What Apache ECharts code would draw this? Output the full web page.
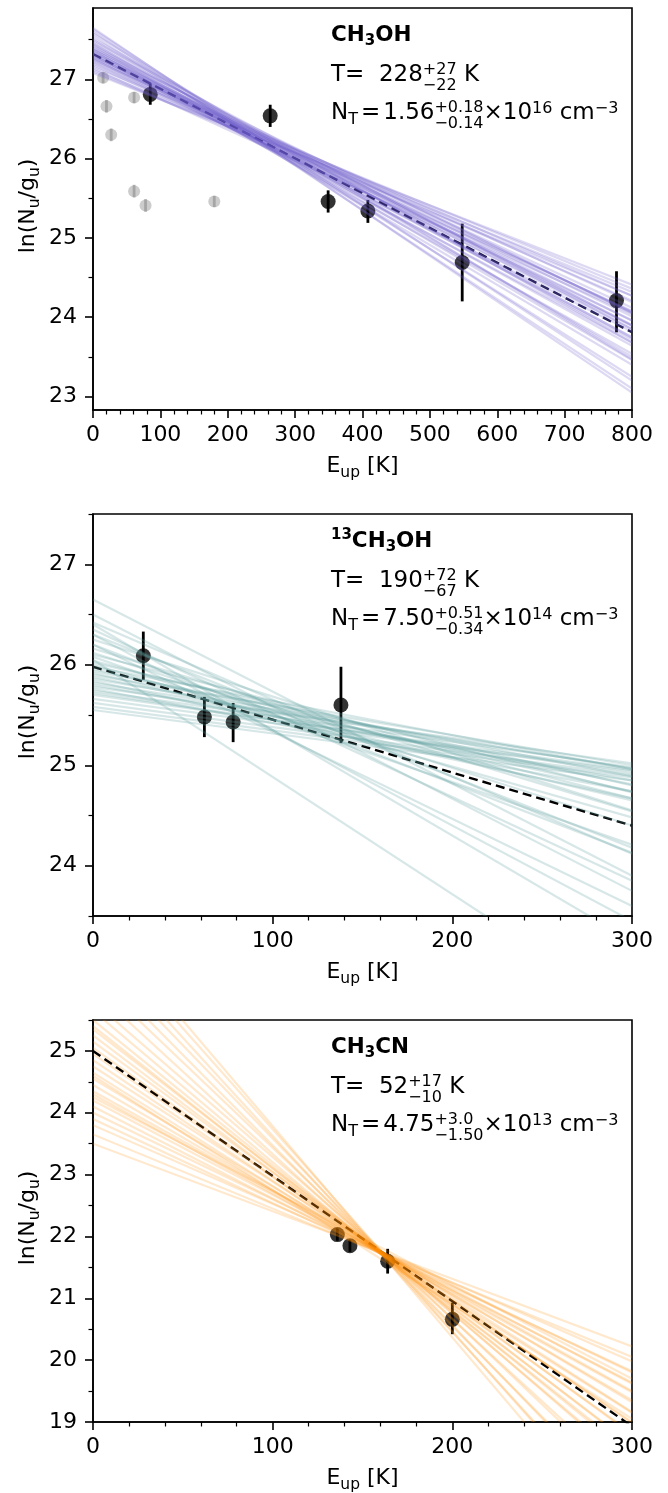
<!DOCTYPE html>
<html><head><meta charset="utf-8">
<script src="https://cdn.jsdelivr.net/npm/echarts@6/dist/echarts.min.js"></script>
<style>html,body{margin:0;padding:0;background:#fff}#c{width:668px;height:1493px}</style>
</head><body><div id="c"></div>
<script>
// ---------------- DATA ----------------
// points: [E_up, ln(Nu/gu), lower end of error bar, upper end of error bar]
const ch3ohPoints = [[85,26.81,26.68,26.95],[263,26.54,26.40,26.68],[349,25.46,25.32,25.60],[408,25.34,25.19,25.48],[548,24.69,24.20,25.18],[777,24.21,23.81,24.58]];
const ch3ohExcluded = [[15,27.02,26.95,27.09],[20,26.66,26.58,26.74],[27,26.30,26.22,26.38],[61,26.77,26.70,26.84],[61,25.59,25.51,25.67],[78,25.41,25.33,25.49],[180,25.46,25.39,25.53]];
const c13Points = [[28,26.09,25.85,26.33],[62,25.48,25.28,25.68],[78,25.43,25.23,25.62],[138,25.60,25.22,25.98]];
const ch3cnPoints = [[136,22.03,21.93,22.13],[143,21.85,21.75,21.95],[164,21.60,21.40,21.80],[200,20.66,20.42,20.93]];
// best fits: [ln at E=0, ln at E=max]
const ch3ohFit = [27.32, 23.81];
const c13Fit = [25.98, 24.40];
const ch3cnFit = [25.00, 18.93];
// MCMC sample lines: [ln at E=0, ln at E=max]
const ch3ohSamples = [[27.65,23.05],[27.60,23.10],[27.63,23.20],[27.58,23.47],[27.55,23.25],[27.52,23.68],[27.50,23.50],[27.48,23.85],[27.46,23.46],[27.45,23.74],[27.43,23.40],[27.42,23.90],[27.40,23.72],[27.39,24.05],[27.38,23.64],[27.37,23.90],[27.36,23.54],[27.35,23.85],[27.34,24.06],[27.33,23.75],[27.32,24.01],[27.31,23.68],[27.30,23.96],[27.29,24.19],[27.28,23.89],[27.27,24.12],[27.26,23.82],[27.25,24.07],[27.23,24.27],[27.22,23.96],[27.20,24.21],[27.18,24.08],[27.16,24.36],[27.14,24.04],[27.12,24.32],[27.10,24.27],[27.08,24.41]];
const c13Samples = [[26.65,23.90],[26.50,23.75],[26.42,24.12],[26.40,23.25],[26.35,23.85],[26.30,24.18],[26.30,23.45],[26.25,24.55],[26.20,24.13],[26.20,23.60],[26.16,24.54],[26.12,24.40],[26.10,24.73],[26.08,24.21],[26.05,22.55],[26.04,24.67],[26.02,24.80],[26.00,24.48],[25.98,24.96],[25.96,24.74],[25.94,24.89],[25.92,24.65],[25.90,25.00],[25.88,24.81],[25.86,24.96],[25.84,24.67],[25.82,24.97],[25.80,24.85],[25.78,25.02],[25.76,24.74],[25.74,24.98],[25.72,24.92],[25.70,24.95],[25.66,24.94],[25.62,24.90],[25.58,24.88],[25.55,24.85]];
const ch3cnSamples = [[23.50,20.22],[23.65,20.05],[23.80,19.98],[23.90,19.82],[24.00,19.80],[24.10,19.64],[24.20,19.62],[24.30,19.48],[24.35,19.50],[24.45,19.35],[24.55,19.32],[24.65,19.15],[24.75,19.16],[24.85,19.00],[24.95,18.98],[25.05,18.82],[25.15,18.80],[25.25,18.64],[25.35,18.62],[25.50,18.45],[25.65,18.30],[25.80,18.25],[26.00,18.00],[26.20,17.90],[26.40,17.62],[26.60,17.55],[26.80,17.28],[27.00,17.20],[27.20,16.95],[24.25,19.70],[24.60,19.05],[25.40,18.50]];
// axis ticks
const xMaxes = [800, 300, 300];
const yRanges = [[22.83, 27.9], [23.5, 27.5], [19, 25.5]];
const yMajor = [[23,24,25,26,27],[24,25,26,27],[19,20,21,22,23,24,25]];
const yMinor = [[23.5,24.5,25.5,26.5,27.5],[23.5,24.5,25.5,26.5,27.5],[19.5,20.5,21.5,22.5,23.5,24.5,25.5]];

// ---------------- LAYOUT ----------------
const L = 93, GW = 539, GH = 402;
const tops = [8, 514, 1020];
const sampleColors = ['rgba(106,90,205,0.23)', 'rgba(95,158,160,0.25)', 'rgba(255,140,0,0.2)'];
const fitColors = ['#1c1a48', '#000', '#000'];

const cv = document.createElement('canvas').getContext('2d');
function fontStr(s, b) { return (b ? 'bold ' : '') + s + 'px "DejaVu Sans"'; }
function tw(t, s, b) { cv.font = fontStr(s, b); cv.textBaseline = 'alphabetic'; return cv.measureText(t).width; }
function midOff(s, b) {
  cv.font = fontStr(s, b);
  cv.textBaseline = 'middle'; const a = cv.measureText('H').actualBoundingBoxAscent;
  cv.textBaseline = 'alphabetic'; const c = cv.measureText('H').actualBoundingBoxAscent;
  return c - a;
}
function textEl(t, x, baseY, s, b) {
  return { type: 'text', x: x, y: baseY - midOff(s, b), silent: true,
    style: { text: t, font: fontStr(s, b), fill: '#000', align: 'left', verticalAlign: 'middle' } };
}
function layoutLine(items, x0, baseY) {
  let x = x0; const els = [];
  for (const it of items) {
    if (it.gap !== undefined) { x += it.gap; continue; }
    const s = it.s || 23, b = !!it.b;
    if (it.sup !== undefined) {
      els.push(textEl(it.sup, x, baseY - 7.5, s, b));
      els.push(textEl(it.sub, x, baseY + 8.5, s, b));
      x += Math.max(tw(it.sup, s, b), tw(it.sub, s, b));
    } else {
      els.push(textEl(it.t, x, baseY + (it.dy || 0), s, b));
      x += tw(it.t, s, b);
    }
  }
  return { els, width: x - x0 };
}
const SS = 16;
const annotations = [
  [
    [{t:'CH',s:21.5,b:1},{t:'3',s:15,b:1,dy:3.5},{t:'OH',s:21.5,b:1}],
    [{t:'T=  228'},{sup:'+27',sub:'\u221222',s:SS},{t:' K'}],
    [{t:'N'},{t:'T',s:SS,dy:5},{gap:3},{t:'='},{gap:3},{t:'1.56'},{sup:'+0.18',sub:'\u22120.14',s:SS},{t:'\u00d710'},{t:'16',s:SS,dy:-6.5},{t:' cm'},{t:'\u22123',s:SS,dy:-6.5}]
  ],
  [
    [{t:'13',s:15,b:1,dy:-8},{t:'CH',s:21.5,b:1},{t:'3',s:15,b:1,dy:3.5},{t:'OH',s:21.5,b:1}],
    [{t:'T=  190'},{sup:'+72',sub:'\u221267',s:SS},{t:' K'}],
    [{t:'N'},{t:'T',s:SS,dy:5},{gap:3},{t:'='},{gap:3},{t:'7.50'},{sup:'+0.51',sub:'\u22120.34',s:SS},{t:'\u00d710'},{t:'14',s:SS,dy:-6.5},{t:' cm'},{t:'\u22123',s:SS,dy:-6.5}]
  ],
  [
    [{t:'CH',s:21.5,b:1},{t:'3',s:15,b:1,dy:3.5},{t:'CN',s:21.5,b:1}],
    [{t:'T=  52'},{sup:'+17',sub:'\u221210',s:SS},{t:' K'}],
    [{t:'N'},{t:'T',s:SS,dy:5},{gap:3},{t:'='},{gap:3},{t:'4.75'},{sup:'+3.0',sub:'\u22121.50',s:SS},{t:'\u00d710'},{t:'13',s:SS,dy:-6.5},{t:' cm'},{t:'\u22123',s:SS,dy:-6.5}]
  ]
];
const xNameItems = [{t:'E',s:22},{t:'up',s:15.5,dy:4.5},{t:' [K]',s:22}];
const yNameItems = [{t:'ln(N',s:22},{t:'u',s:15.5,dy:4.5},{t:'/g',s:22},{t:'u',s:15.5,dy:4.5},{t:')',s:22}];

const grids = [], xAxes = [], yAxes = [], series = [], graphics = [];
const panelPoints = [ch3ohPoints, c13Points, ch3cnPoints];
const panelFits = [ch3ohFit, c13Fit, ch3cnFit];
const panelSamples = [ch3ohSamples, c13Samples, ch3cnSamples];
const labelStyle = { fontSize: 22, color: '#000', fontFamily: 'DejaVu Sans' };

function errSeries(i, data, color, z) {
  return { type: 'custom', xAxisIndex: i, yAxisIndex: 2 * i, clip: true, silent: true, z: z,
    data: data, encode: { x: 0, y: [2, 3] },
    renderItem: function (params, api) {
      const a = api.coord([api.value(0), api.value(2)]);
      const b = api.coord([api.value(0), api.value(3)]);
      return { type: 'line', shape: { x1: a[0], y1: a[1], x2: b[0], y2: b[1] }, style: { stroke: color, lineWidth: 2.8 } };
    } };
}

for (let i = 0; i < 3; i++) {
  const top = tops[i], xMax = xMaxes[i];
  grids.push({ left: L, top: top, width: GW, height: GH, show: true, borderColor: '#000', borderWidth: 1.6, backgroundColor: 'transparent' });
  xAxes.push({ gridIndex: i, type: 'value', min: 0, max: xMax, interval: 100,
    axisLine: { show: true, onZero: false, lineStyle: { color: '#000', width: 1.6 } },
    axisTick: { show: true, length: 8, lineStyle: { color: '#000', width: 1.6 } },
    minorTick: { show: true, splitNumber: 5, length: 4.5, lineStyle: { color: '#000', width: 1.2 } },
    axisLabel: Object.assign({ margin: 14 }, labelStyle),
    splitLine: { show: false }, minorSplitLine: { show: false } });
  yAxes.push({ gridIndex: i, type: 'value', min: yRanges[i][0], max: yRanges[i][1], position: 'left',
    axisLine: { show: true, onZero: false, lineStyle: { color: '#000', width: 1.6 } },
    axisTick: { show: true, length: 8, lineStyle: { color: '#000', width: 1.6 }, customValues: yMajor[i] },
    axisLabel: Object.assign({ margin: 16, customValues: yMajor[i] }, labelStyle),
    splitLine: { show: false } });
  yAxes.push({ gridIndex: i, type: 'value', min: yRanges[i][0], max: yRanges[i][1], position: 'left',
    axisLine: { show: false },
    axisTick: { show: true, length: 4.5, lineStyle: { color: '#000', width: 1.2 }, customValues: yMinor[i] },
    axisLabel: { show: false, customValues: yMinor[i] },
    splitLine: { show: false } });

  if (i === 0) {
    series.push(errSeries(0, ch3ohExcluded, 'rgba(128,128,128,0.5)', 1));
    series.push({ type: 'scatter', xAxisIndex: 0, yAxisIndex: 0, silent: true, z: 1,
      data: ch3ohExcluded.map(p => [p[0], p[1]]), symbolSize: 12,
      itemStyle: { color: 'rgba(128,128,128,0.5)' } });
  }
  series.push(errSeries(i, panelPoints[i], '#000', 2));
  series.push({ type: 'scatter', xAxisIndex: i, yAxisIndex: 2 * i, silent: true, z: 2,
    data: panelPoints[i].map(p => [p[0], p[1]]), symbolSize: 15, itemStyle: { color: '#000' } });
  series.push({ type: 'line', xAxisIndex: i, yAxisIndex: 2 * i, silent: true, z: 3, showSymbol: false, clip: true,
    data: [[0, panelFits[i][0]], [xMax, panelFits[i][1]]],
    lineStyle: { color: fitColors[i], width: 2.4, type: [9, 5] } });
  const col = sampleColors[i];
  series.push({ type: 'custom', xAxisIndex: i, yAxisIndex: 2 * i, clip: true, silent: true, z: 4,
    data: panelSamples[i].map(p => [0, p[0], xMax, p[1]]), encode: { x: [0, 2], y: [1, 3] },
    renderItem: function (params, api) {
      const a = api.coord([api.value(0), api.value(1)]);
      const b = api.coord([api.value(2), api.value(3)]);
      return { type: 'line', shape: { x1: a[0], y1: a[1], x2: b[0], y2: b[1] }, style: { stroke: col, lineWidth: 2.2 } };
    } });

  // annotations
  const offs = [33, 73, 111];
  annotations[i].forEach((ln, k) => {
    layoutLine(ln, 331, top + offs[k]).els.forEach(e => graphics.push(e));
  });
  // x axis name
  const xn = layoutLine(xNameItems, 0, 0);
  const xStart = L + GW / 2 - xn.width / 2;
  layoutLine(xNameItems, xStart, top + GH + 62).els.forEach(e => graphics.push(e));
  // y axis name (rotated)
  const yn = layoutLine(yNameItems, 0, 0);
  const yEls = layoutLine(yNameItems, -yn.width / 2, 0).els;
  graphics.push({ type: 'group', x: 34, y: top + GH / 2 - 3, rotation: Math.PI / 2, children: yEls });
}

const chart = echarts.init(document.getElementById('c'), null, { renderer: 'canvas' });
chart.setOption({
  animation: false,
  backgroundColor: '#fff',
  grid: grids, xAxis: xAxes, yAxis: yAxes, series: series, graphic: graphics
});
</script>
</body></html>
